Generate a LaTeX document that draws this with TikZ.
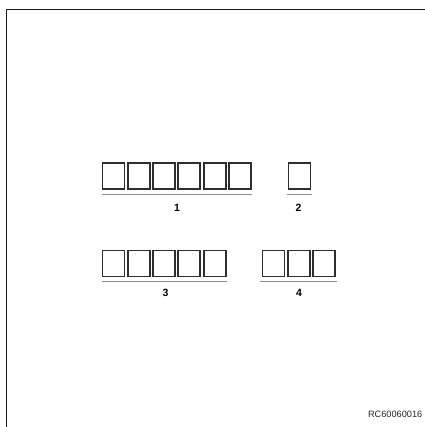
\documentclass[tikz,border=0pt]{standalone}
\usepackage{fontspec}
\setmainfont{Liberation Sans}
\usetikzlibrary{positioning}
\definecolor{frame}{HTML}{1A1A1A}
\definecolor{slotline}{HTML}{2E2E2E}
\definecolor{uline}{HTML}{8C8C8C}

\begin{document}
\begin{tikzpicture}[x=1pt,y=-1pt,
  slot/.style={draw=slotline,line width=1.9pt,minimum width=22pt,minimum height=26pt,inner sep=0pt,anchor=north west},
  bar/.style={draw=uline,line width=1.6pt},
  lbl/.style={font=\bfseries\fontsize{10.5}{10.5}\selectfont,inner sep=0pt}]
  \useasboundingbox (0,0) rectangle (424,427);
  % frame
  \draw[frame,line width=1.6pt] (6.5,440) -- (6.5,9.5) -- (440,9.5);

  % group 1
  \foreach \i in {0,...,5}
    \node[slot] (a\i) at ({101.5+25.3*\i},162.5) {};
  \draw[bar] ([yshift=-4pt]a0.south west) -- ([yshift=-4pt]a5.south east);
  \node[lbl] (n1) at (177,208) {1};

  % group 2
  \node[slot] (b0) at (287.5,162.5) {};
  \draw[bar] ([yshift=-4pt,xshift=-1pt]b0.south west) -- ([yshift=-4pt,xshift=1pt]b0.south east);
  \node[lbl] (n2) at (298.5,208) {2};

  % group 3
  \foreach \i in {0,...,4}
    \node[slot] (c\i) at ({101.5+25.3*\i},249.5) {};
  \draw[bar] ([yshift=-4pt]c0.south west) -- ([yshift=-4pt]c4.south east);
  \node[lbl] (n3) at (165.5,293) {3};

  % group 4
  \foreach \i in {0,...,2}
    \node[slot] (d\i) at ({261.5+25.3*\i},249.5) {};
  \draw[bar] ([yshift=-4pt,xshift=-2pt]d0.south west) -- ([yshift=-4pt,xshift=1pt]d2.south east);
  \node[lbl] (n4) at (299,293) {4};

  % figure code
  \node[font=\fontsize{9.2}{9.2}\selectfont,text=black!85,anchor=east,inner sep=0pt] (code) at (422.5,414) {RC60060016};
\end{tikzpicture}
\end{document}
